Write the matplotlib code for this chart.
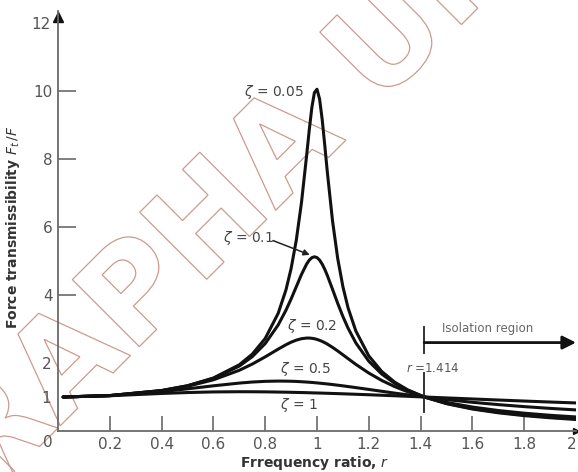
import matplotlib
matplotlib.use('Agg')
import matplotlib.pyplot as plt
from matplotlib.textpath import TextPath
from matplotlib.patches import PathPatch
from matplotlib.font_manager import FontProperties
from matplotlib.transforms import Affine2D

# ---------------- data ----------------
r = [0.02, 0.2, 0.4, 0.5, 0.6, 0.7, 0.75, 0.8, 0.85, 0.88, 0.9, 0.92, 0.94, 0.96,
     0.97, 0.98, 0.99, 1.0, 1.01, 1.02, 1.03, 1.04, 1.06, 1.08, 1.1, 1.12, 1.15,
     1.2, 1.25, 1.3, 1.35, 1.414, 1.5, 1.6, 1.7, 1.8, 1.9, 2.0]

t_005 = [1.000, 1.042, 1.190, 1.332, 1.559, 1.947, 2.259, 2.720, 3.458, 4.145, 4.776,
         5.609, 6.713, 8.105, 8.845, 9.506, 9.951, 10.050, 9.760, 9.162, 8.401, 7.605,
         6.176, 5.070, 4.244, 3.620, 2.940, 2.208, 1.749, 1.436, 1.211, 1.001, 0.803,
         0.646, 0.535, 0.452, 0.389, 0.339]
t_01 = [1.000, 1.042, 1.189, 1.328, 1.547, 1.909, 2.186, 2.571, 3.117, 3.549, 3.882,
        4.242, 4.602, 4.910, 5.023, 5.096, 5.123, 5.099, 5.026, 4.908, 4.753, 4.571,
        4.166, 3.752, 3.367, 3.023, 2.590, 2.052, 1.675, 1.401, 1.197, 1.001, 0.812,
        0.659, 0.550, 0.469, 0.406, 0.356]
t_02 = [1.000, 1.041, 1.184, 1.314, 1.505, 1.785, 1.968, 2.180, 2.407, 2.536, 2.611,
        2.672, 2.714, 2.733, 2.733, 2.726, 2.713, 2.693, 2.666, 2.634, 2.597, 2.555,
        2.459, 2.353, 2.241, 2.127, 1.959, 1.704, 1.486, 1.305, 1.155, 1.001, 0.841,
        0.704, 0.602, 0.524, 0.462, 0.413]
t_05 = [1.000, 1.040, 1.158, 1.240, 1.329, 1.409, 1.440, 1.460, 1.468, 1.466, 1.463,
        1.457, 1.449, 1.439, 1.434, 1.428, 1.421, 1.414, 1.407, 1.399, 1.391, 1.383,
        1.366, 1.347, 1.328, 1.307, 1.276, 1.222, 1.168, 1.114, 1.063, 1.000, 0.923,
        0.844, 0.776, 0.717, 0.665, 0.620]
t_1 = [1.000, 1.036, 1.104, 1.131, 1.149, 1.155, 1.154, 1.151, 1.145, 1.141, 1.138,
       1.134, 1.131, 1.127, 1.125, 1.122, 1.120, 1.118, 1.116, 1.114, 1.111, 1.109,
       1.104, 1.099, 1.094, 1.088, 1.080, 1.066, 1.051, 1.036, 1.020, 1.000, 0.973,
       0.942, 0.911, 0.881, 0.852, 0.825]

series = [t_005, t_01, t_02, t_05, t_1]

x_ticks = [0.2, 0.4, 0.6, 0.8, 1.0, 1.2, 1.4, 1.6, 1.8]
x_tick_labels = ['0.2', '0.4', '0.6', '0.8', '1', '1.2', '1.4', '1.6', '1.8']
y_ticks = [4, 6, 8, 10]
y_tick_labels = ['4', '6', '8', '10']
y_extra = [1, 2, 12]
y_extra_labels = ['1', '2', '12']

r_crit = 1.414

# ---------------- figure ----------------
W, H = 578, 472
fig = plt.figure(figsize=(W / 100, H / 100), dpi=100)
fig.patch.set_facecolor('white')
ax = fig.add_axes([58 / W, 41 / H, 518 / W, 420 / H])
ax.set_facecolor('none')

# watermark (outlined text)
fp = FontProperties(family='DejaVu Sans', weight='bold')
tp = TextPath((0, 0), 'RAPHA UNIV', size=130, prop=fp)
tr = Affine2D().rotate_deg(45).translate(-11, -25)
wm = PathPatch(tp, transform=tr, facecolor='none', edgecolor='#cc9a90', lw=0.9, zorder=-1)
fig.add_artist(wm)

ax.set_xlim(0, 2)
ax.set_ylim(0, 12.35)

for t in series:
    ax.plot(r, t, color='#111111', lw=2.2, solid_joinstyle='round',
            solid_capstyle='round', zorder=3)

# spines
for s in ['top', 'right']:
    ax.spines[s].set_visible(False)
for s in ['left', 'bottom']:
    ax.spines[s].set_color('#6a6a6a')
    ax.spines[s].set_linewidth(1.3)
ax.plot(0, 0.985, marker='^', color='#111', ms=7, transform=ax.transAxes, clip_on=False)
ax.plot(1, 0, marker='>', color='#111', ms=5, transform=ax.transAxes, clip_on=False)

# ticks
ax.set_xticks(x_ticks)
ax.set_xticklabels(x_tick_labels)
ax.set_xticks([2.0], minor=True)
ax.set_xticklabels(['2'], minor=True, ha='right')
ax.set_yticks(y_ticks)
ax.set_yticklabels(y_tick_labels)
ax.set_yticks(y_extra, minor=True)
ax.set_yticklabels(y_extra_labels, minor=True)
ax.tick_params(axis='x', which='major', direction='in', length=11, width=1.2,
               color='#6a6a6a', pad=4, labelsize=11, labelcolor='#555555')
ax.tick_params(axis='x', which='minor', length=0, pad=4, labelsize=11,
               labelcolor='#555555')
ax.tick_params(axis='y', which='major', direction='in', length=13, width=1.2,
               color='#6a6a6a', pad=4, labelsize=11, labelcolor='#555555')
ax.tick_params(axis='y', which='minor', length=0, pad=5, labelsize=11,
               labelcolor='#555555')
ax.text(-0.039, -0.35, '0', ha='center', va='center', fontsize=11, color='#555555',
        clip_on=False)

# axis labels
ax.set_xlabel(r'Frrequency ratio, $r$', fontsize=10, fontweight='bold', color='#333333')
ax.xaxis.set_label_coords(0.496, -0.055)
ax.set_ylabel(r'Force transmissibility $F_t\,/F$', fontsize=10, fontweight='bold',
              color='#333333')
ax.yaxis.set_label_coords(-0.07, 0.485)

# curve labels
tc = '#444444'
ax.text(0.835, 9.97, r'$\zeta$ = 0.05', ha='center', va='center', fontsize=10, color=tc, zorder=4)
ax.text(0.735, 5.68, r'$\zeta$ = 0.1', ha='center', va='center', fontsize=10, color=tc, zorder=4)
ax.annotate('', xy=(0.972, 5.18), xytext=(0.83, 5.6),
            arrowprops=dict(arrowstyle='-|>', color='#222222', lw=1.1,
                            mutation_scale=9, shrinkA=0, shrinkB=0), zorder=4)
ax.text(0.98, 3.1, r'$\zeta$ = 0.2', ha='center', va='center', fontsize=10, color=tc, zorder=4)
ax.text(0.955, 1.83, r'$\zeta$ = 0.5', ha='center', va='center', fontsize=10, color=tc, zorder=4)
ax.text(0.93, 0.75, r'$\zeta$ = 1', ha='center', va='center', fontsize=10, color=tc, zorder=4)

# isolation region marker
ax.plot([r_crit, r_crit], [2.3, 3.05], color='#222222', lw=1.3, zorder=4)
ax.plot([r_crit, r_crit], [0.55, 1.72], color='#222222', lw=1.3, zorder=4)
ax.annotate('', xy=(2.0, 2.6), xytext=(r_crit, 2.6),
            arrowprops=dict(arrowstyle='-|>', color='#111111', lw=2.0,
                            mutation_scale=20, shrinkA=0, shrinkB=0), zorder=4)
ax.text(1.66, 3.0, 'Isolation region', ha='center', va='center', fontsize=8.5,
        color='#666666')
ax.text(1.445, 1.83, r'$r$ =1.414', ha='center', va='center', fontsize=8.5,
        color='#555555')

fig.savefig('out.png', dpi=100, facecolor='white')
